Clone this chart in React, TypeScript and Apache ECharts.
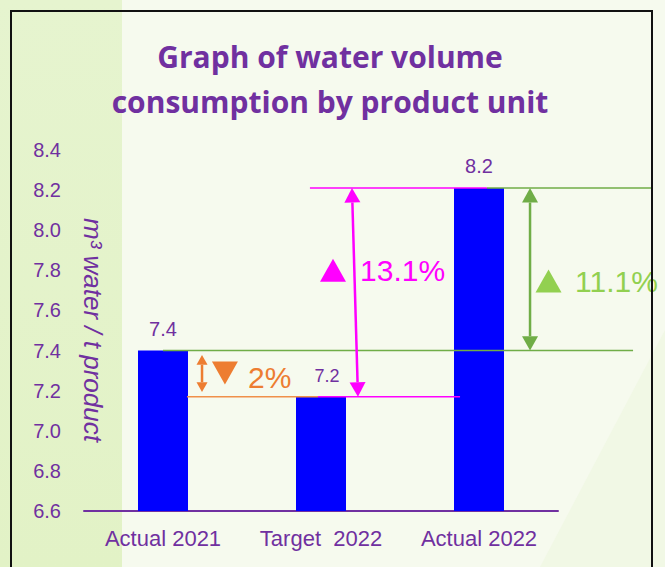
import React, { useEffect, useRef } from "react";
import * as echarts from "echarts";

// ---- data ----
const categories = ["Actual 2021", "Target  2022", "Actual 2022"];
const values = [7.4, 7.17, 8.21];
const valueLabels = ["7.4", "7.2", "8.2"];
const yMin = 6.6;
const yMax = 8.4;
const yStep = 0.2;

// annotation geometry in data units (x: 0..3 across the category band, y: axis value)
const refLines = [
  { y: 7.4, x0: 0.5, x1: 3.475, color: "#70ad47" },
  { y: 7.17, x0: 0.652, x1: 1.481, color: "#f0904a" },
  { y: 7.17, x0: 1.481, x1: 2.38, color: "#ff00ff" },
  { y: 8.21, x0: 1.43, x1: 2.55, color: "#ff00ff" },
  { y: 8.21, x0: 2.55, x1: 3.6, color: "#70ad47" },
];
const arrows = [
  { x0: 1.696, y0: 8.21, x1: 1.734, y1: 7.17, color: "#ff00ff", head: 16 },
  { x0: 2.823, y0: 8.21, x1: 2.823, y1: 7.4, color: "#70ad47", head: 16 },
  { x0: 0.747, y0: 7.378, x1: 0.747, y1: 7.193, color: "#ed7d31", head: 11 },
];
const changeNotes = [
  { tx: 1.576, ty: 7.801, dir: "up", lx: 1.747, ly: 7.801, text: "13.1%", color: "#ff00ff" },
  { tx: 2.94, ty: 7.747, dir: "up", lx: 3.108, ly: 7.742, text: "11.1%", color: "#92d050" },
  { tx: 0.892, ty: 7.288, dir: "down", lx: 1.038, ly: 7.268, text: "2%", color: "#ed7d31" },
];

const PURPLE = "#7030a0";
const FONT = "'Liberation Sans', Arial, sans-serif";

function arrowShapes(p0: number[], p1: number[], color: string, head: number) {
  const dx = p1[0] - p0[0];
  const dy = p1[1] - p0[1];
  const len = Math.sqrt(dx * dx + dy * dy);
  const ux = dx / len;
  const uy = dy / len;
  const nx = -uy;
  const ny = ux;
  const hl = head * 0.9;
  const hw = head / 2;
  const b0 = [p0[0] + ux * hl, p0[1] + uy * hl];
  const b1 = [p1[0] - ux * hl, p1[1] - uy * hl];
  return [
    {
      type: "line",
      shape: { x1: b0[0], y1: b0[1], x2: b1[0], y2: b1[1] },
      style: { stroke: color, lineWidth: 2.5 },
    },
    {
      type: "polygon",
      shape: { points: [p0, [b0[0] + nx * hw, b0[1] + ny * hw], [b0[0] - nx * hw, b0[1] - ny * hw]] },
      style: { fill: color },
    },
    {
      type: "polygon",
      shape: { points: [p1, [b1[0] + nx * hw, b1[1] + ny * hw], [b1[0] - nx * hw, b1[1] - ny * hw]] },
      style: { fill: color },
    },
  ];
}

export default function App() {
  const ref = useRef<HTMLDivElement>(null);
  useEffect(() => {
    if (!ref.current) return;
    const chart = echarts.init(ref.current, null, { renderer: "svg" });
    const option: any = {
      animation: false,
      backgroundColor: "#f6faee",
      grid: { left: 84, right: 107, top: 150, bottom: 56 },
      graphic: [
        { type: "rect", z: -10, shape: { x: 0, y: 0, width: 665, height: 567 }, style: { fill: "#f6faee" } },
        {
          type: "rect",
          z: -9,
          shape: { x: 0, y: 0, width: 122, height: 567 },
          style: {
            fill: new echarts.graphic.LinearGradient(0, 0, 0, 1, [
              { offset: 0, color: "#e6f4cf" },
              { offset: 1, color: "#e2f2c6" },
            ]),
          },
        },
        {
          type: "polygon",
          z: -8,
          shape: { points: [[540, 567], [665, 330], [665, 567]] },
          style: { fill: "#f1f8e5" },
        },
        {
          type: "rect",
          z: 100,
          shape: { x: 11, y: 11, width: 641, height: 620 },
          style: { fill: "none", stroke: "#111", lineWidth: 2 },
        },
        {
          type: "text",
          z: 50,
          x: 330,
          y: 56,
          style: {
            text: "Graph of water volume",
            fill: PURPLE,
            font: "bold 30px 'Open Sans', sans-serif",
            align: "center",
            verticalAlign: "middle",
          },
        },
        {
          type: "text",
          z: 50,
          x: 330,
          y: 101,
          style: {
            text: "consumption by product unit",
            fill: PURPLE,
            font: "bold 30px 'Open Sans', sans-serif",
            align: "center",
            verticalAlign: "middle",
          },
        },
        {
          type: "text",
          z: 50,
          x: 93,
          y: 330,
          rotation: -Math.PI / 2,
          style: {
            text: "m³ water / t product",
            fill: PURPLE,
            font: "italic 26px " + FONT,
            align: "center",
            verticalAlign: "middle",
          },
        },
      ],
      xAxis: [
        {
          type: "category",
          data: categories,
          axisLine: { show: true, lineStyle: { color: PURPLE, width: 2 } },
          axisTick: { show: false },
          axisLabel: {
            color: PURPLE,
            fontSize: 22,
            fontFamily: FONT,
            margin: 16,
            interval: 0,
            hideOverlap: false,
          },
        },
        { type: "value", min: 0, max: 3, show: false, position: "bottom" },
      ],
      yAxis: {
        type: "value",
        min: yMin,
        max: yMax,
        interval: yStep,
        axisLine: { show: false },
        axisTick: { show: false },
        splitLine: { show: false },
        axisLabel: {
          color: PURPLE,
          fontSize: 20,
          fontFamily: FONT,
          margin: 23,
          formatter: (v: number) => v.toFixed(1),
        },
      },
      series: [
        {
          type: "bar",
          xAxisIndex: 0,
          barWidth: 50,
          itemStyle: { color: "#0000ff" },
          data: values.map((v, i) => ({
            value: v,
            label: {
              show: true,
              position: "top",
              distance: 12,
              offset: i === 1 ? [6, 0] : [0, 0],
              formatter: () => valueLabels[i],
              color: PURPLE,
              fontSize: i === 1 ? 18 : 20,
              fontFamily: FONT,
            },
          })),
          z: 3,
        },
        {
          type: "custom",
          xAxisIndex: 1,
          yAxisIndex: 0,
          clip: false,
          z: 10,
          data: [[0, yMin]],
          renderItem: (_params: any, api: any) => {
            const children: any[] = [];
            refLines.forEach((l) => {
              const a = api.coord([l.x0, l.y]);
              const b = api.coord([l.x1, l.y]);
              children.push({
                type: "line",
                shape: { x1: a[0], y1: a[1], x2: b[0], y2: b[1] },
                style: { stroke: l.color, lineWidth: 1.5 },
              });
            });
            arrows.forEach((ar) => {
              const p0 = api.coord([ar.x0, ar.y0]);
              const p1 = api.coord([ar.x1, ar.y1]);
              children.push(...arrowShapes(p0, p1, ar.color, ar.head));
            });
            changeNotes.forEach((n) => {
              const c = api.coord([n.tx, n.ty]);
              const w = 26;
              const h = 23;
              const pts =
                n.dir === "up"
                  ? [[c[0], c[1] - h / 2], [c[0] + w / 2, c[1] + h / 2], [c[0] - w / 2, c[1] + h / 2]]
                  : [[c[0] - w / 2, c[1] - h / 2], [c[0] + w / 2, c[1] - h / 2], [c[0], c[1] + h / 2]];
              children.push({ type: "polygon", shape: { points: pts }, style: { fill: n.color } });
              const t = api.coord([n.lx, n.ly]);
              children.push({
                type: "text",
                x: t[0],
                y: t[1],
                style: {
                  text: n.text,
                  fill: n.color,
                  font: "30px " + FONT,
                  align: "left",
                  verticalAlign: "middle",
                },
              });
            });
            return { type: "group", children };
          },
        },
      ],
    };
    chart.setOption(option);
    return () => chart.dispose();
  }, []);
  return (
    <div
      ref={ref}
      style={{ position: "absolute", left: 0, top: 0, width: 665, height: 567 }}
    />
  );
}
